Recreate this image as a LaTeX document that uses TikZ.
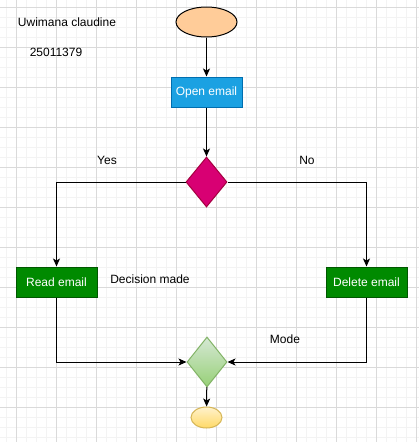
\documentclass[tikz,border=0pt]{standalone}
\usepackage{fontspec}
\setmainfont{Liberation Sans}
\usepackage{xcolor}
\usetikzlibrary{arrows.meta, positioning, shapes.geometric}

\definecolor{gridmajor}{HTML}{DADADA}
\definecolor{gridminor}{HTML}{F3F3F3}
\definecolor{peach}{HTML}{FFCC99}
\definecolor{boxblue}{HTML}{1BA1E2}
\definecolor{lineblue}{HTML}{006EAF}
\definecolor{magenta}{HTML}{D80073}
\definecolor{linemagenta}{HTML}{A50040}
\definecolor{boxgreen}{HTML}{008A00}
\definecolor{linegreen}{HTML}{005700}
\definecolor{lightgreen}{HTML}{D5E8D4}
\definecolor{midgreen}{HTML}{97D077}
\definecolor{bordergreen}{HTML}{82B366}
\definecolor{lightyellow}{HTML}{FFF2CC}
\definecolor{midyellow}{HTML}{FFD966}
\definecolor{borderyellow}{HTML}{D6B656}

\tikzset{
  every node/.style={font=\fontsize{12}{14}\selectfont},
  stepbox/.style={rectangle, draw, line width=1pt, text=white, inner sep=0pt,
    minimum height=30pt},
  arr/.style={-{Stealth[length=8pt, width=7pt, inset=2pt]}, line width=1pt},
  plain/.style={line width=1pt}
}

\begin{document}
\begin{tikzpicture}[x=1pt, y=-1pt]
    \useasboundingbox (0,0) rectangle (419,442);
    \fill[white] (0,0) rectangle (419,442);

    % Background grid
    \foreach \gx in {6.7,16.7,...,419} {
        \draw[gridminor, line width=0.6pt] (\gx,0) -- (\gx,442);
    }
    \foreach \gy in {7.3,17.3,...,442} {
        \draw[gridminor, line width=0.6pt] (0,\gy) -- (419,\gy);
    }
    \foreach \gx in {16.7,56.7,...,419} {
        \draw[gridmajor, line width=0.7pt] (\gx,0) -- (\gx,442);
    }
    \foreach \gy in {7.3,47.3,...,442} {
        \draw[gridmajor, line width=0.7pt] (0,\gy) -- (419,\gy);
    }

    % Name and number
    \node (name) at (67,22) {Uwimana claudine};
    \node (number) at (56,52) {25011379};

    % Start and open
    \node[ellipse, draw, line width=1pt, fill=peach, minimum width=61pt,
          minimum height=30pt, inner sep=0pt] (start) at (206.5,22) {};
    \node[stepbox, fill=boxblue, draw=lineblue, minimum width=71pt] (open) at (206.5,92) {Open email};

    % Decision
    \node[diamond, draw=linemagenta, fill=magenta, line width=1pt, inner sep=0pt,
          minimum width=41pt, minimum height=50pt] (decide) at (206.5,182) {};
    \node (yes) at (107,160) {Yes};
    \node (no) at (307,160) {No};

    % Branches
    \node[stepbox, fill=boxgreen, draw=linegreen, minimum width=81pt] (read) at (56.5,282) {Read email};
    \node[stepbox, fill=boxgreen, draw=linegreen, minimum width=81pt] (delete) at (366.5,282) {Delete email};
    \node (made) at (150,279) {Decision made};
    \node (mode) at (285,339) {Mode};

    % Merge and end
    \node[diamond, draw=bordergreen, top color=lightgreen, bottom color=midgreen,
          line width=1pt, inner sep=0pt, minimum width=40pt, minimum height=50pt] (merge) at (207,362) {};
    \node[ellipse, draw=borderyellow, top color=lightyellow, bottom color=midyellow,
          line width=1pt, inner sep=0pt, minimum width=31pt, minimum height=21pt] (stop) at (206.5,417.5) {};

    % Connectors
    \draw[arr] (start) -- (open);
    \draw[arr] (open) -- (decide);
    \draw[arr] (decide.west) -| (read.north);
    \draw[arr] (decide.east) -| (delete.north);
    \draw[arr] (read.south) |- (merge.west);
    \draw[arr] (delete.south) |- (merge.east);
    \draw[arr] (merge) -- (stop);
\end{tikzpicture}
\end{document}
